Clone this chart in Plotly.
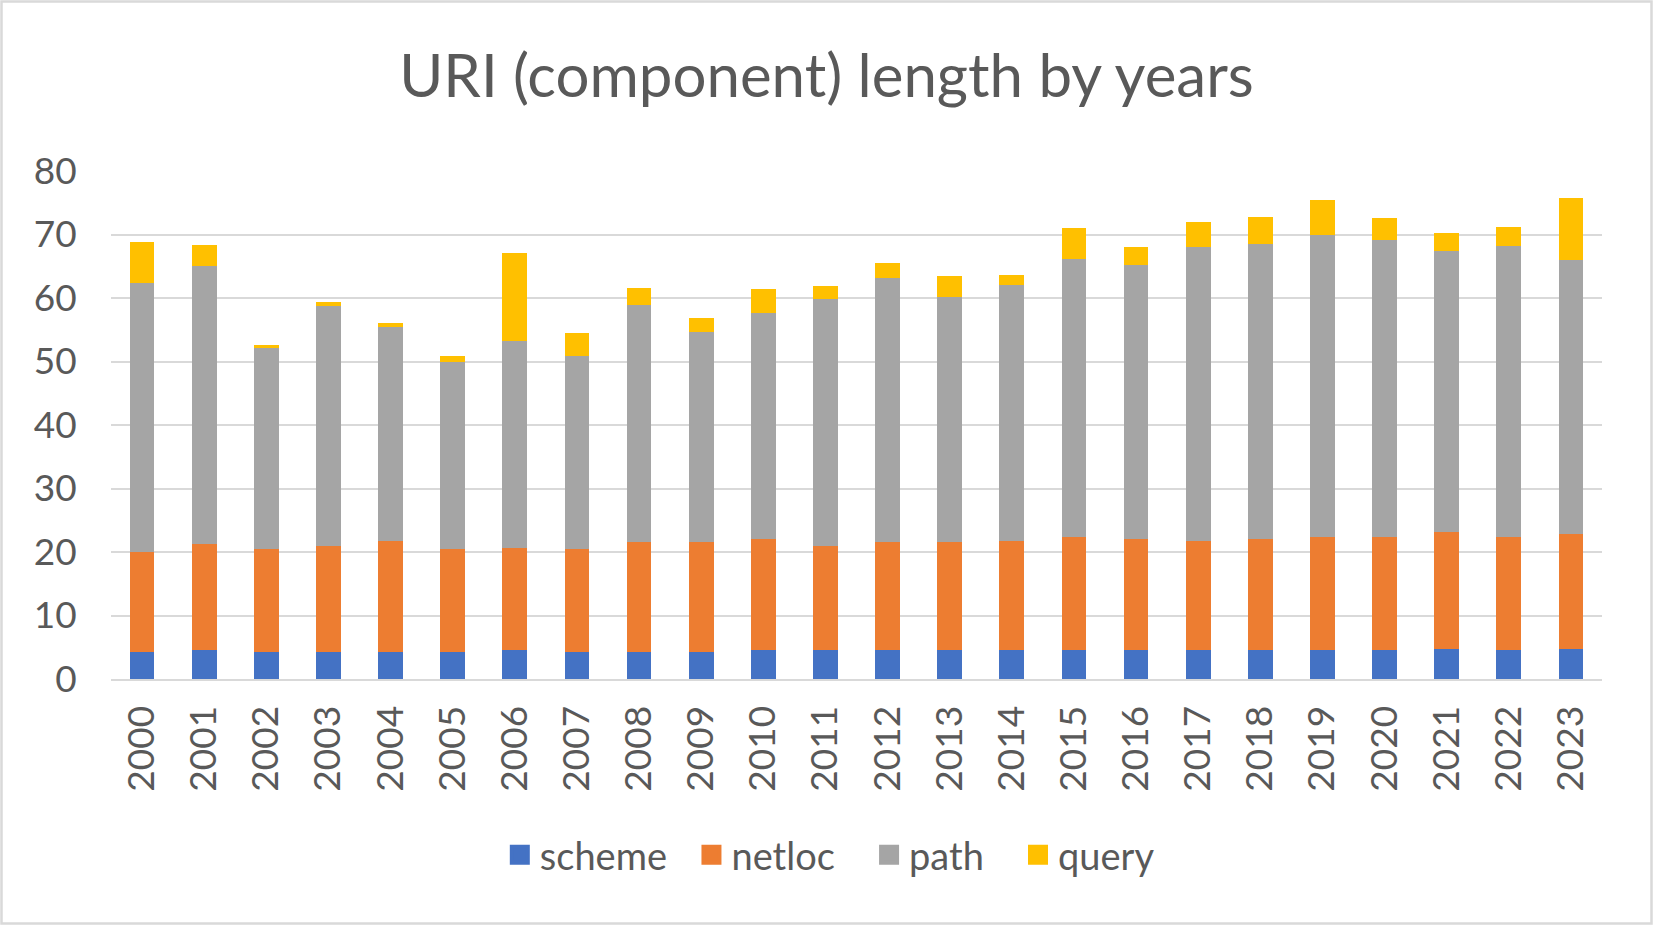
import plotly.graph_objects as go

years = [str(y) for y in range(2000, 2024)]

scheme = [4.3, 4.5, 4.3, 4.3, 4.3, 4.3, 4.5, 4.3, 4.3, 4.3, 4.5, 4.5,
          4.5, 4.5, 4.5, 4.5, 4.5, 4.6, 4.6, 4.6, 4.6, 4.8, 4.6, 4.8]
netloc = [15.7, 16.7, 16.1, 16.6, 17.4, 16.1, 16.1, 16.1, 17.2, 17.2, 17.6, 16.5,
          17.0, 17.0, 17.3, 17.8, 17.5, 17.2, 17.4, 17.7, 17.8, 18.3, 17.7, 18.0]
path = [42.3, 43.8, 31.7, 37.8, 33.7, 29.6, 32.6, 30.5, 37.4, 33.1, 35.5, 38.8,
        41.6, 38.6, 40.2, 43.8, 43.2, 46.2, 46.5, 47.6, 46.8, 44.3, 45.9, 43.2]
query = [6.5, 3.4, 0.5, 0.7, 0.6, 0.8, 13.9, 3.6, 2.6, 2.3, 3.8, 2.1,
         2.4, 3.3, 1.6, 4.9, 2.9, 4.0, 4.3, 5.6, 3.4, 2.9, 3.0, 9.7]

series_names = ["scheme", "netloc", "path", "query"]
series_colors = ["#4472C4", "#ED7D31", "#A5A5A5", "#FFC000"]
series_values = [scheme, netloc, path, query]
legend_pad = [2, 3, 3, 0]

W, H = 1653, 925
ML, MR, MT, MB = 111, 51, 171, 246
PW, PH = W - ML - MR, H - MT - MB

FONT = "Lato"
TXT = "#595959"
GRID = "#D9D9D9"
NB = "\u00a0"

fig = go.Figure()
for name, color, vals in zip(series_names, series_colors, series_values):
    fig.add_trace(go.Bar(x=years, y=vals, name=name, marker_color=color,
                         marker_line_width=0, showlegend=False))
for name, color, pad in zip(series_names, series_colors, legend_pad):
    fig.add_trace(go.Scatter(x=[None], y=[None], mode="markers", name=name + NB * pad,
                             marker=dict(symbol="square", size=18, color=color,
                                         line=dict(color=color, width=4))))

fig.update_layout(
    width=W, height=H,
    margin=dict(l=ML, r=MR, t=MT, b=MB),
    paper_bgcolor="white", plot_bgcolor="white",
    barmode="stack", bargap=0.6,
    font=dict(family=FONT, color=TXT, size=37),
    title=dict(text="URI (component) length by years", x=0.5, xref="container",
               xanchor="center", y=1 - 76 / H, yref="container", yanchor="middle",
               font=dict(family=FONT, size=60, color=TXT)),
    showlegend=True,
    legend=dict(orientation="h", xref="container", x=0.502, xanchor="center",
                yref="container", y=1 - 855 / H, yanchor="middle",
                font=dict(family=FONT, size=38, color=TXT),
                itemsizing="trace", traceorder="normal"),
    xaxis=dict(type="category", tickangle=-90, ticks="outside", ticklen=10,
               tickcolor="rgba(0,0,0,0)", showline=True, linecolor=GRID,
               linewidth=2, showgrid=False, tickfont=dict(size=37, color=TXT)),
    yaxis=dict(range=[0, 80], dtick=10, showgrid=True, gridcolor=GRID,
               gridwidth=2, zeroline=False, showline=False, ticks="outside",
               ticklen=26, tickcolor="rgba(0,0,0,0)",
               tickfont=dict(size=37, color=TXT)),
    shapes=[dict(type="rect", xref="paper", yref="paper",
                 x0=(1.5 - ML) / PW, x1=(W - 1.5 - ML) / PW,
                 y0=(H - MB - (H - 1.5)) / PH, y1=(H - MB - 1.5) / PH,
                 line=dict(color=GRID, width=2.5), fillcolor="rgba(0,0,0,0)",
                 layer="below")],
)

fig.write_html("out.html", config={"displayModeBar": False},
               post_script="document.body.style.margin='0';document.body.style.overflow='hidden';")
